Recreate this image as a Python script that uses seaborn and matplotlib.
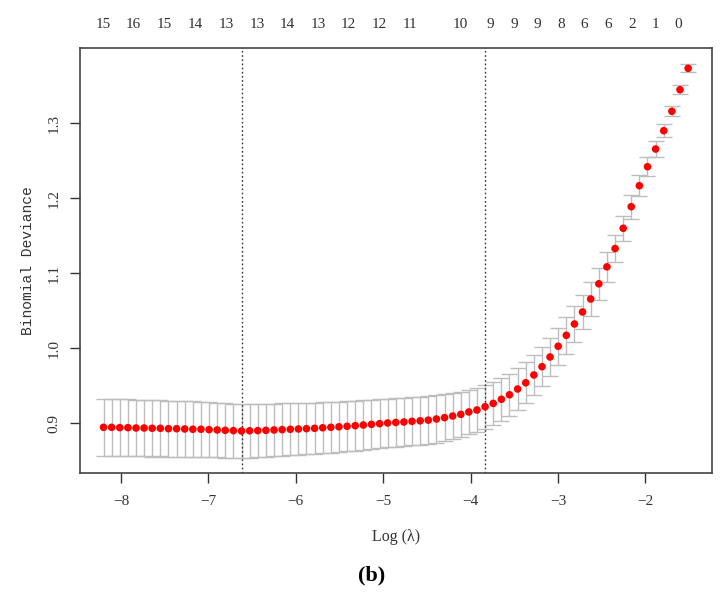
import matplotlib
matplotlib.use("Agg")
import matplotlib.pyplot as plt
import seaborn as sns
import pandas as pd

# ---- data ----
log_lambda = [-8.200, -8.107, -8.014, -7.921, -7.828, -7.736, -7.643, -7.550, -7.457, -7.364,
              -7.271, -7.178, -7.085, -6.992, -6.899, -6.807, -6.714, -6.621, -6.528, -6.435,
              -6.342, -6.249, -6.156, -6.063, -5.970, -5.878, -5.785, -5.692, -5.599, -5.506,
              -5.413, -5.320, -5.227, -5.134, -5.041, -4.949, -4.856, -4.763, -4.670, -4.577,
              -4.484, -4.391, -4.298, -4.205, -4.112, -4.020, -3.927, -3.834, -3.741, -3.648,
              -3.555, -3.462, -3.369, -3.276, -3.183, -3.091, -2.998, -2.905, -2.812, -2.719,
              -2.626, -2.533, -2.440, -2.347, -2.254, -2.162, -2.069, -1.976, -1.883, -1.790,
              -1.697, -1.604, -1.511]
cv_mean = [0.8946, 0.8946, 0.8942, 0.8942, 0.8937, 0.8937, 0.8933, 0.8933, 0.8928, 0.8928,
           0.8924, 0.8920, 0.8920, 0.8915, 0.8911, 0.8906, 0.8902, 0.8897, 0.8900, 0.8902,
           0.8906, 0.8911, 0.8915, 0.8920, 0.8924, 0.8928, 0.8933, 0.8940, 0.8946, 0.8953,
           0.8960, 0.8968, 0.8977, 0.8986, 0.8995, 0.9004, 0.9011, 0.9017, 0.9026, 0.9033,
           0.9042, 0.9057, 0.9075, 0.9097, 0.9119, 0.9151, 0.9177, 0.9221, 0.9265, 0.9320,
           0.9380, 0.9457, 0.9540, 0.9644, 0.9755, 0.9884, 1.0027, 1.0173, 1.0324, 1.0484,
           1.0657, 1.0860, 1.1086, 1.1330, 1.1600, 1.1888, 1.2168, 1.2421, 1.2657, 1.2901,
           1.3160, 1.3448, 1.3733]
cv_se = [0.0380, 0.0380, 0.0379, 0.0379, 0.0378, 0.0377, 0.0376, 0.0375, 0.0374, 0.0373,
         0.0372, 0.0371, 0.0369, 0.0367, 0.0365, 0.0363, 0.0361, 0.0359, 0.0357, 0.0355,
         0.0353, 0.0351, 0.0349, 0.0347, 0.0345, 0.0343, 0.0341, 0.0339, 0.0337, 0.0335,
         0.0333, 0.0331, 0.0330, 0.0328, 0.0327, 0.0326, 0.0325, 0.0323, 0.0321, 0.0319,
         0.0317, 0.0314, 0.0311, 0.0307, 0.0303, 0.0299, 0.0295, 0.0291, 0.0287, 0.0283,
         0.0279, 0.0275, 0.0271, 0.0266, 0.0261, 0.0256, 0.0250, 0.0244, 0.0238, 0.0231,
         0.0222, 0.0210, 0.0196, 0.0180, 0.0170, 0.0160, 0.0140, 0.0123, 0.0105, 0.0084,
         0.0066, 0.0058, 0.0055]
lambda_min = -6.621
lambda_1se = -3.834

top_pos = [-8.206, -7.857, -7.508, -7.153, -6.799, -6.444, -6.101, -5.746, -5.403, -5.048,
           -4.693, -4.121, -3.778, -3.503, -3.240, -2.966, -2.703, -2.428, -2.153, -1.890,
           -1.627]
top_nz = ["15", "16", "15", "14", "13", "13", "14", "13", "12", "12",
          "11", "10", "9", "9", "9", "8", "6", "6", "2", "1", "0"]

x_ticks = [-8, -7, -6, -5, -4, -3, -2]
y_ticks = [0.9, 1.0, 1.1, 1.2, 1.3]
y_ticklabels = ["0.9", "1.0", "1.1", "1.2", "1.3"]

df = pd.DataFrame({"loglam": log_lambda, "cvm": cv_mean, "cvsd": cv_se})

sns.set_theme(style="white")
serif = ["Liberation Serif", "DejaVu Serif"]
plt.rcParams["font.family"] = serif
plt.rcParams["axes.unicode_minus"] = True

fig = plt.figure(figsize=(7.2, 5.95), dpi=100)
ax = fig.add_axes([80 / 720, 1 - 473 / 595, 632 / 720, 425 / 595])

ax.errorbar(df["loglam"], df["cvm"], yerr=df["cvsd"], fmt="none",
            ecolor="#bdbdbd", elinewidth=1.0, capsize=5.5, capthick=1.0, zorder=1)
sns.scatterplot(data=df, x="loglam", y="cvm", ax=ax, color="#ff0000",
                s=30, edgecolor="none", linewidth=0, zorder=3, legend=False)

for v in (lambda_min, lambda_1se):
    ax.axvline(v, color="#333333", linestyle=(0, (1.2, 1.8)), linewidth=1.0, zorder=2)

ax.set_xlim(-8.469, -1.238)
ax.set_ylim(0.8337, 1.4004)
ax.set_xticks(x_ticks)
ax.set_xticklabels([f"\u2212{abs(t)}" for t in x_ticks])
ax.set_yticks(y_ticks)
ax.set_yticklabels(y_ticklabels, rotation=90, va="center")
ax.tick_params(axis="x", direction="out", length=7, width=1.0, color="#333333",
               labelsize=11, labelcolor="#333333", bottom=True, pad=9)
ax.tick_params(axis="y", direction="out", length=7, width=1.0, color="#333333",
               labelsize=11, labelcolor="#333333", left=True, pad=7)

for s in ax.spines.values():
    s.set_color("#444444")
    s.set_linewidth(1.2)

ax.set_xlabel("Log (\u03bb)", fontsize=11.5, color="#333333", labelpad=15)
ax.set_ylabel("Binomial Deviance", fontsize=10.5, color="#333333",
              family=["Liberation Mono", "DejaVu Sans Mono"], labelpad=9)

top = ax.secondary_xaxis("top")
top.set_xticks(top_pos)
top.set_xticklabels(top_nz)
top.tick_params(length=0, pad=12, labelsize=11, labelcolor="#333333")
top.spines["top"].set_visible(False)

fig.text(372 / 720, 1 - 575 / 595, "(b)", ha="center", va="center",
         fontsize=16, fontweight="bold", color="black", family=serif)

fig.savefig("out.png", dpi=100, facecolor="white")
